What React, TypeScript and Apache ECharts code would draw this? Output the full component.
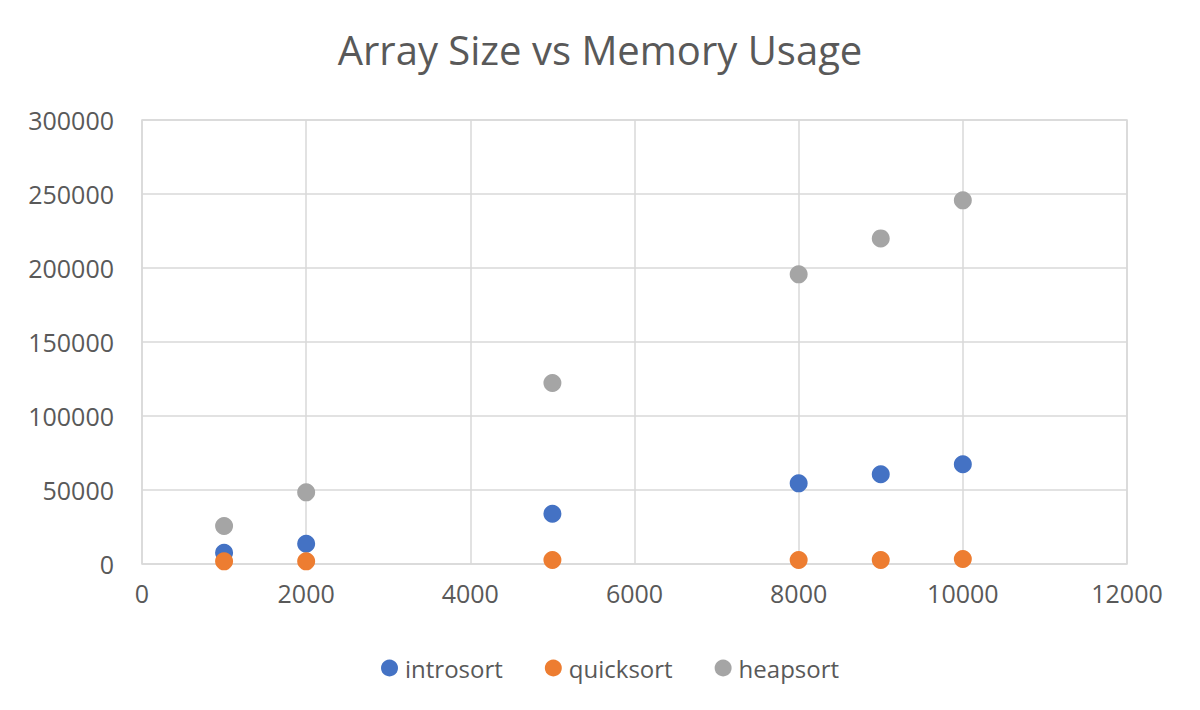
import React, { useEffect, useRef } from "react";
import * as echarts from "echarts";

const xSizes = [1000, 2000, 5000, 8000, 9000, 10000];
const introsort = [7600, 13700, 34000, 54500, 60600, 67400];
const quicksort = [1800, 1800, 2700, 2700, 2700, 3400];
const heapsort = [25700, 48400, 122300, 195700, 220000, 245700];
const seriesNames = ["introsort", "quicksort", "heapsort"];
const colors = ["#4472C4", "#ED7D31", "#A5A5A5"];

const FONT = "'Open Sans', 'Liberation Sans', sans-serif";

export default function App() {
  const ref = useRef<HTMLDivElement>(null);
  useEffect(() => {
    if (!ref.current) return;
    const chart = echarts.init(ref.current, undefined, { renderer: "svg" });
    const datasets = [introsort, quicksort, heapsort];
    chart.setOption({
      animation: false,
      backgroundColor: "#ffffff",
      color: colors,
      title: {
        text: "Array Size vs Memory Usage",
        left: "center",
        top: 24,
        textStyle: { fontFamily: FONT, fontSize: 40, fontWeight: "normal", color: "#595959" },
      },
      legend: {
        bottom: 25,
        left: 376,
        itemWidth: 17,
        itemHeight: 17,
        itemGap: 42,
        icon: "circle",
        data: seriesNames,
        textStyle: { fontFamily: FONT, fontSize: 24, color: "#595959", padding: [0, 0, 0, 2] },
      },
      grid: { left: 142, right: 73, top: 120, bottom: 146, show: true, borderColor: "#D9D9D9", borderWidth: 1.5 },
      xAxis: {
        type: "value",
        min: 0,
        max: 12000,
        interval: 2000,
        axisLine: { show: false },
        axisTick: { show: false },
        splitLine: { show: true, lineStyle: { color: "#D9D9D9", width: 1.5 } },
        axisLabel: { fontFamily: FONT, fontSize: 25, color: "#595959", margin: 16, formatter: (v: number) => String(v) },
      },
      yAxis: {
        type: "value",
        min: 0,
        max: 300000,
        interval: 50000,
        axisLine: { show: false },
        axisTick: { show: false },
        splitLine: { show: true, lineStyle: { color: "#D9D9D9", width: 1.5 } },
        axisLabel: { fontFamily: FONT, fontSize: 25, color: "#595959", margin: 28, formatter: (v: number) => String(v) },
      },
      series: seriesNames.map((name, i) => ({
        name,
        type: "scatter",
        symbol: "circle",
        symbolSize: 18,
        itemStyle: { color: colors[i], opacity: 1 },
        data: xSizes.map((x, j) => [x, datasets[i][j]]),
      })),
    });
    return () => chart.dispose();
  }, []);
  return (
    <div
      ref={ref}
      style={{ position: "fixed", left: 0, top: 0, width: 1200, height: 710, background: "#fff" }}
    />
  );
}
